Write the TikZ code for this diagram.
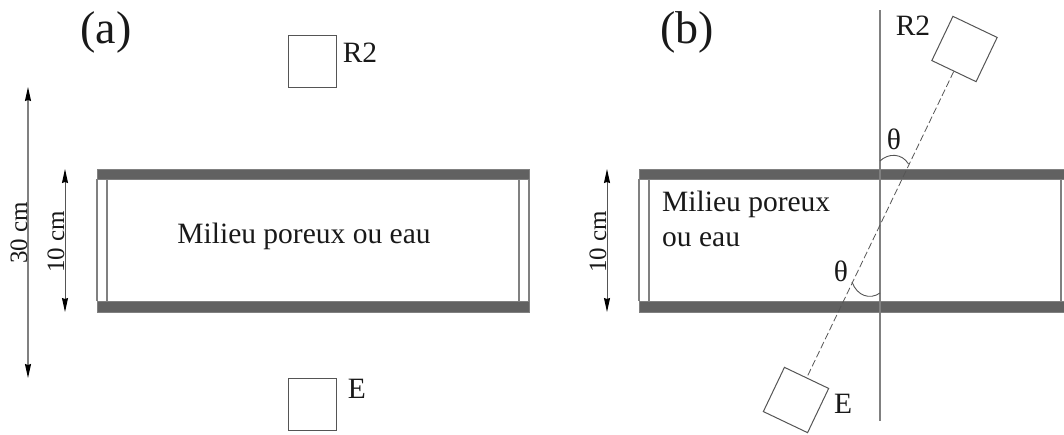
\documentclass[tikz,border=0pt]{standalone}
\usepackage{fontspec}
\setmainfont{Liberation Serif}
\usetikzlibrary{arrows.meta}
\definecolor{bargray}{HTML}{616161}
\definecolor{linegray}{HTML}{808080}
\definecolor{darkline}{HTML}{555555}
\tikzset{
  every node/.style={text=black!90,font=\fontsize{29.5}{34.5}\selectfont},
  lab/.style={inner sep=0pt},
  biglab/.style={inner sep=0pt,font=\fontsize{46}{52}\selectfont},
  sidelab/.style={inner sep=0pt,rotate=90,font=\fontsize{25}{29}\selectfont},
  sq/.style={draw=darkline,line width=1pt,fill=white,inner sep=0pt},
  bar/.style={draw=linegray,line width=0.8pt,fill=bargray},
  wall/.style={draw=linegray,line width=1.1pt},
  dim/.style={draw=darkline,line width=1pt,{Stealth[length=14pt,width=6pt,inset=1pt,black]}-{Stealth[length=14pt,width=6pt,inset=1pt,black]}},
  dimlight/.style={dim,draw=linegray,line width=1.2pt},
  axisline/.style={draw=linegray,line width=1.1pt},
  beam/.style={draw=darkline,line width=0.8pt,dash pattern=on 7pt off 3pt},
  anglemark/.style={draw=darkline,line width=0.9pt}
}
\begin{document}
\begin{tikzpicture}[x=1pt,y=-1pt]
\useasboundingbox (0,0) rectangle (1064,434);
% (a)
\path[wall] (97,179) -- (97,301) (107,179) -- (107,301) (519,179) -- (519,301) (529,179) -- (529,301);
\path[bar] (97,169) rectangle (529,179);
\path[bar] (97,301.5) rectangle (529,312);
\node[sq,minimum width=48pt,minimum height=52pt] (ra) at (312,61) {};
\node[sq,minimum width=48pt,minimum height=52pt] (ea) at (312,404) {};
\node[biglab] (la) at (106,32) {(a)};
\node[lab] (tra) at (360,53) {R2};
\node[lab] (tea) at (357,389) {E};
\node[lab] (ma) at (304,236) {Milieu poreux ou eau};
\coordinate (d30t) at (28,87);
\coordinate (d30b) at (28,378);
\coordinate (d10t) at (65,169);
\coordinate (d10b) at (65,312);
\draw[dimlight] (d30t) -- (d30b);
\draw[dim] (d10t) -- (d10b);
\node[sidelab] (t30) at (19,233) {30 cm};
\node[sidelab] (t10) at (56,242) {10 cm};
% (b)
\path[wall] (639,179) -- (639,301) (649,179) -- (649,301) (1061,179) -- (1061,301);
\path[bar] (639,169) rectangle (1066,179);
\path[bar] (639,301.5) rectangle (1066,312);
\coordinate (vt) at (880,10);
\coordinate (vb) at (880,421);
\draw[axisline] (vt) -- (vb);
\node[sq,minimum size=49pt,rotate=-25.5] (rb) at (964.5,49) {};
\node[sq,minimum size=49pt,rotate=-25.5] (eb) at (796,400) {};
\draw[beam] (rb) -- (eb);
\draw[anglemark] (880,161) .. controls (888,153) and (902,153) .. (908.5,164);
\draw[anglemark] (852,282) .. controls (857,296) and (870,300) .. (880,293);
\node[biglab] (lb) at (687,32) {(b)};
\node[lab] (trb) at (913,26) {R2};
\node[lab] (teb) at (843,404) {E};
\node[lab] (th1) at (894,139) {θ};
\node[lab] (th2) at (841,271) {θ};
\node[lab,align=left,anchor=north west] (mb) at (662,191) {Milieu poreux\\ou eau};
\coordinate (d10bt) at (607,169);
\coordinate (d10bb) at (607,312);
\draw[dim] (d10bt) -- (d10bb);
\node[sidelab] (t10b) at (598,242) {10 cm};
\end{tikzpicture}
\end{document}
